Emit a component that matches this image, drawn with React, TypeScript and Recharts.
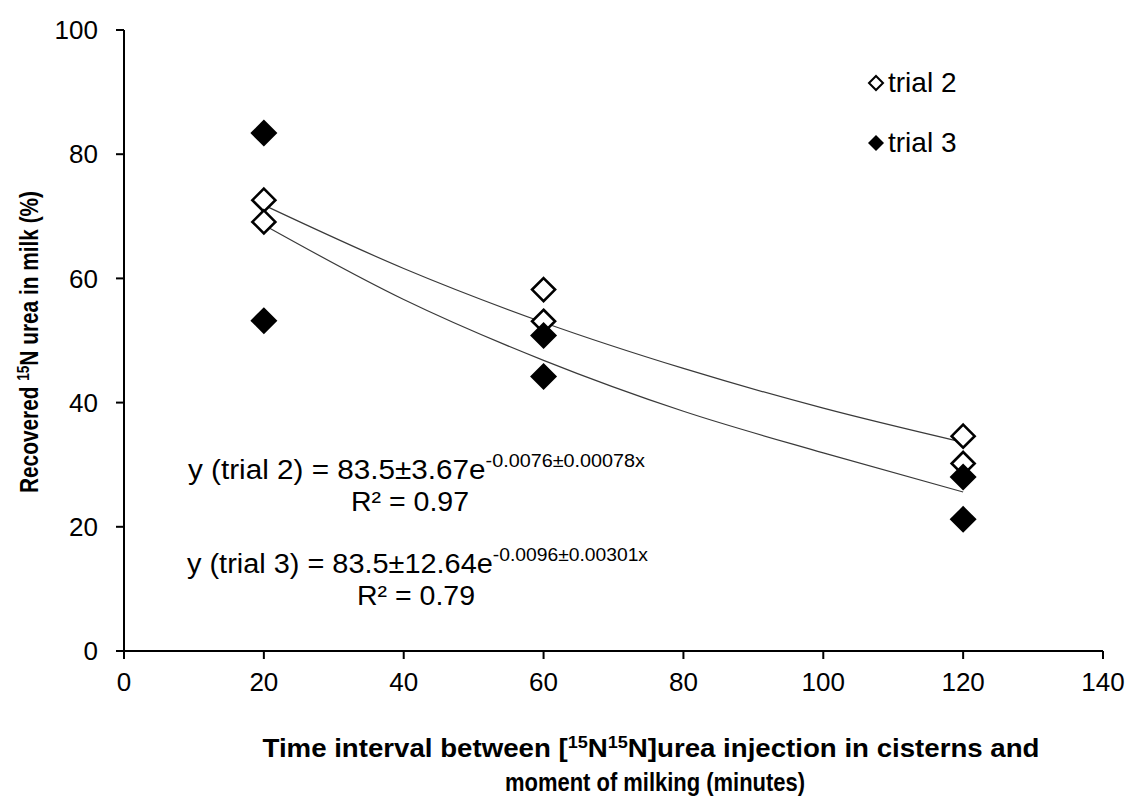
import React from "react";
import { ComposedChart, Scatter, Line, XAxis, YAxis, Legend } from "recharts";

const xTicks = [0, 20, 40, 60, 80, 100, 120, 140];
const yTicks = [0, 20, 40, 60, 80, 100];

// measured points
const trial2X = [20, 20, 60, 60, 120, 120];
const trial2Y = [72.6, 69.1, 58.2, 53.1, 34.6, 30.2];
const trial3X = [20, 20, 60, 60, 120, 120];
const trial3Y = [83.4, 53.2, 50.8, 44.2, 28.0, 21.2];

// fitted curves
const fitX = [20, 40, 60, 80, 100, 120];
const fit2Y = [71.8, 61.6, 52.9, 45.5, 39.1, 33.6];
const fit3Y = [68.6, 56.6, 46.8, 38.6, 31.9, 25.6];

const seriesNames = ["trial 2", "trial 3"];

const FONT = "'Liberation Sans', Arial, sans-serif";

const toPoints = (xs: number[], ys: number[]) => xs.map((x, i) => ({ x, y: ys[i] }));

const diamond = (cx: number, cy: number, r: number) =>
  `M${cx},${cy - r}L${cx + r},${cy}L${cx},${cy + r}L${cx - r},${cy}Z`;

const OpenDiamond = (props: any) => (
  <path d={diamond(props.cx, props.cy, 11.5)} fill="#fff" stroke="#000" strokeWidth={2.6} />
);
const FilledDiamond = (props: any) => (
  <path d={diamond(props.cx, props.cy, 13.5)} fill="#000" stroke="none" />
);

const LegendBox = () => (
  <div style={{ fontFamily: FONT, fontSize: 28, color: "#000" }}>
    {seriesNames.map((name, i) => (
      <div key={name} style={{ display: "flex", alignItems: "center", height: 60 }}>
        <svg width={18} height={18} style={{ marginRight: 3 }}>
          {i === 0 ? (
            <path d={diamond(9, 9, 7)} fill="#fff" stroke="#000" strokeWidth={2} />
          ) : (
            <path d={diamond(9, 9, 8)} fill="#000" />
          )}
        </svg>
        <span>{name}</span>
      </div>
    ))}
  </div>
);

export default function App() {
  const t2 = toPoints(trial2X, trial2Y);
  const t3 = toPoints(trial3X, trial3Y);
  const f2 = toPoints(fitX, fit2Y);
  const f3 = toPoints(fitX, fit3Y);
  const tickStyle = { fontSize: 26, fill: "#000", fontFamily: FONT };

  return (
    <div style={{ position: "absolute", left: 0, top: 0, width: 1130, height: 798, background: "#fff" }}>
      <ComposedChart width={1130} height={798} margin={{ top: 30, right: 27, left: 64, bottom: 107 }}>
        <XAxis
          type="number"
          dataKey="x"
          domain={[0, 140]}
          ticks={xTicks}
          tick={tickStyle}
          tickSize={8}
          tickMargin={14}
          height={40}
          axisLine={{ stroke: "#000", strokeWidth: 2 }}
          tickLine={{ stroke: "#000", strokeWidth: 2 }}
        />
        <YAxis
          type="number"
          dataKey="y"
          domain={[0, 100]}
          ticks={yTicks}
          tick={tickStyle}
          tickSize={8}
          tickMargin={18}
          width={60}
          axisLine={{ stroke: "#000", strokeWidth: 2 }}
          tickLine={{ stroke: "#000", strokeWidth: 2 }}
        />
        <Legend
          layout="vertical"
          align="center"
          verticalAlign="middle"
          content={<LegendBox />}
          wrapperStyle={{ left: 867, top: 53, width: 150 }}
        />
        <Scatter name="trial 2" data={t2} shape={<OpenDiamond />} isAnimationActive={false} legendType="none" />
        <Scatter name="trial 3" data={t3} shape={<FilledDiamond />} isAnimationActive={false} legendType="none" />
        <Line data={f2} dataKey="y" type="monotone" stroke="#3a3a3a" strokeWidth={1.2} dot={false} isAnimationActive={false} legendType="none" />
        <Line data={f3} dataKey="y" type="monotone" stroke="#3a3a3a" strokeWidth={1.2} dot={false} isAnimationActive={false} legendType="none" />
      </ComposedChart>
      <svg width={1130} height={798} style={{ position: "absolute", left: 0, top: 0, pointerEvents: "none" }}>
        <g fontFamily={FONT} fill="#000">
          <text transform="rotate(-90)" x={-342} y={38} textAnchor="middle" fontWeight="bold" fontSize={26} textLength={302} lengthAdjust="spacingAndGlyphs">
            Recovered <tspan fontSize={17} dy={-9}>15</tspan><tspan dy={9}>N urea in milk (%)</tspan>
          </text>
          <text x={651} y={757} textAnchor="middle" fontWeight="bold" fontSize={26} textLength={777} lengthAdjust="spacingAndGlyphs">
            Time interval between [<tspan fontSize={17} dy={-9}>15</tspan><tspan dy={9}>N</tspan><tspan fontSize={17} dy={-9}>15</tspan><tspan dy={9}>N]urea injection in cisterns and</tspan>
          </text>
          <text x={655} y={791} textAnchor="middle" fontWeight="bold" fontSize={26} textLength={300} lengthAdjust="spacingAndGlyphs">
            moment of milking (minutes)
          </text>
          <text x={188} y={479} fontSize={27} textLength={457} lengthAdjust="spacingAndGlyphs">
            y (trial 2) = 83.5±3.67e<tspan fontSize={18} dy={-12}>-0.0076±0.00078x</tspan>
          </text>
          <text x={410} y={511} textAnchor="middle" fontSize={27} textLength={118} lengthAdjust="spacingAndGlyphs">R² = 0.97</text>
          <text x={187} y={573} fontSize={27} textLength={461} lengthAdjust="spacingAndGlyphs">
            y (trial 3) = 83.5±12.64e<tspan fontSize={18} dy={-12}>-0.0096±0.00301x</tspan>
          </text>
          <text x={416} y={605} textAnchor="middle" fontSize={27} textLength={118} lengthAdjust="spacingAndGlyphs">R² = 0.79</text>
        </g>
      </svg>
    </div>
  );
}
